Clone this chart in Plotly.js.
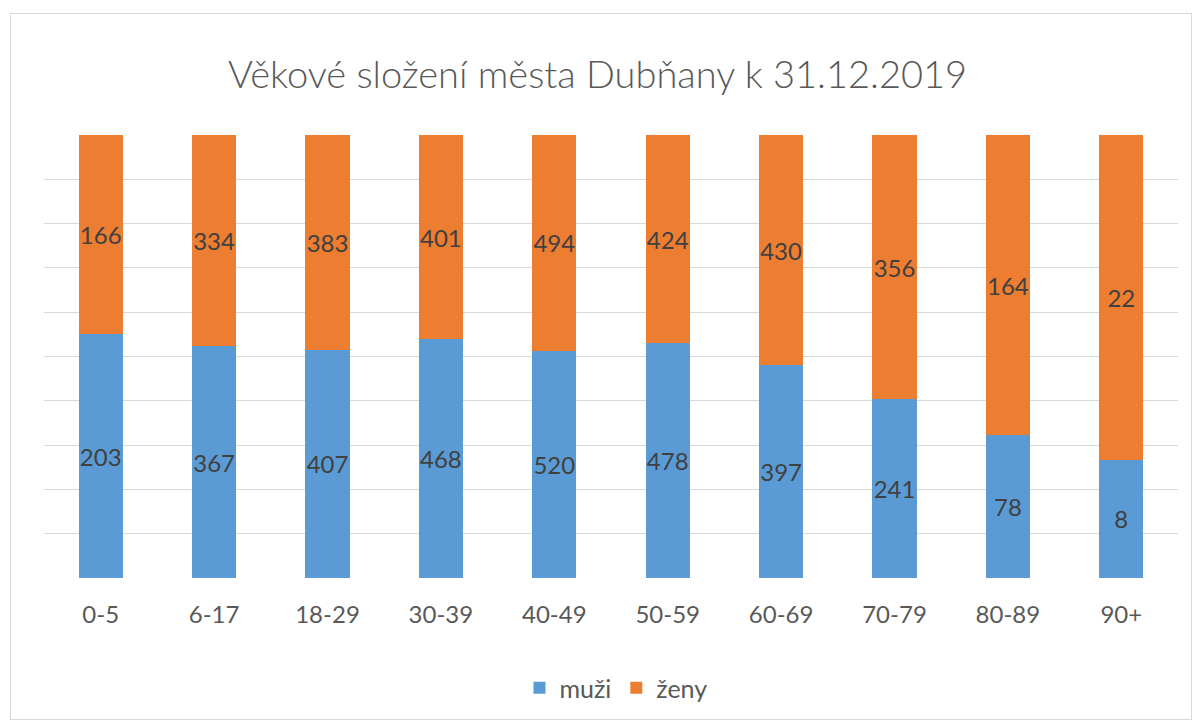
<!DOCTYPE html>
<html>
<head>
<meta charset="utf-8">
<script src="https://cdn.plot.ly/plotly-3.0.1.min.js"></script>
<style>
html,body{margin:0;padding:0;background:#fff;}
#wrap{position:relative;width:1195px;height:722px;}
#chart{width:1195px;height:722px;}
#frame{position:absolute;left:10px;top:13px;width:1182px;height:707px;border:1px solid #d9d9d9;box-sizing:border-box;pointer-events:none;}
</style>
</head>
<body>
<div id="wrap"><div id="chart"></div><div id="frame"></div></div>
<script>
const categories = ["0-5","6-17","18-29","30-39","40-49","50-59","60-69","70-79","80-89","90+"];
const muzi = [203,367,407,468,520,478,397,241,78,8];
const zeny = [166,334,383,401,494,424,430,356,164,22];
const titleText = "Věkové složení města Dubňany k 31.12.2019";

const FONT = "Lato, 'Open Sans', sans-serif";
const common = {
  type: "bar",
  x: categories,
  texttemplate: "%{text}",
  textposition: "inside",
  insidetextanchor: "middle",
  textangle: 0,
  constraintext: "none",
  textfont: {family: FONT, size: 24, color: "#404040"},
  hoverinfo: "x+text+name"
};
const traces = [
  Object.assign({}, common, {name: "muži", y: muzi, text: muzi, marker: {color: "#5B9BD5"}}),
  Object.assign({}, common, {name: "ženy", y: zeny, text: zeny, marker: {color: "#ED7D31"}})
];
const layout = {
  width: 1195, height: 722,
  margin: {l: 44, r: 17, t: 135, b: 144},
  paper_bgcolor: "#ffffff", plot_bgcolor: "#ffffff",
  barmode: "stack", barnorm: "percent", bargap: 0.61,
  title: {text: titleText, font: {family: FONT, size: 38, color: "#595959", weight: 300},
          x: 0.5, xref: "container", y: 1 - 75/722, yref: "container", yanchor: "middle"},
  xaxis: {showgrid: false, showline: false, ticks: "", tickfont: {family: FONT, size: 24, color: "#595959"}, ticklabelstandoff: 20},
  yaxis: {range: [0, 100], dtick: 10, showticklabels: false, gridcolor: "#d9d9d9", gridwidth: 1, zeroline: false, showline: false, ticks: ""},
  legend: {orientation: "h", x: 616/1195, xref: "container", xanchor: "center", y: 1 - 688/722, yref: "container", yanchor: "middle",
           font: {family: FONT, size: 25, color: "#595959"}, traceorder: "normal", itemwidth: 30},
  showlegend: true
};
Plotly.newPlot("chart", traces, layout, {displayModeBar: false, staticPlot: true});
</script>
</body>
</html>
